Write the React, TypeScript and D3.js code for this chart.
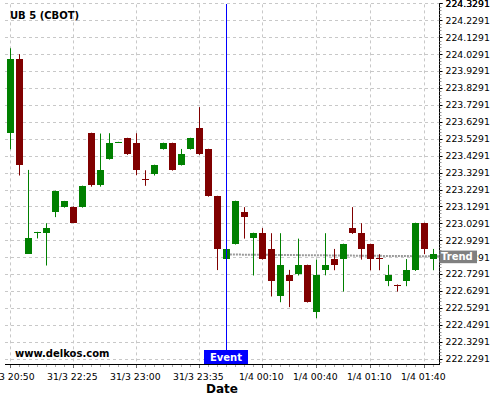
import React, { useEffect } from "react";
import * as d3 from "d3";

const title = "UB 5 (CBOT)";
const opens = [223.565, 224.001, 222.851, 222.975, 222.975, 223.099, 223.128, 223.128, 223.128, 223.564, 223.253, 223.412, 223.507, 223.534, 223.505, 223.292, 223.318, 223.471, 223.505, 223.377, 223.471, 223.594, 223.469, 223.191, 222.821, 222.910, 223.097, 222.945, 222.973, 222.878, 222.602, 222.725, 222.727, 222.784, 222.508, 222.756, 222.819, 222.821, 223.003, 222.973, 222.908, 222.826, 222.691, 222.667, 222.691, 222.754, 223.032, 222.821];
const highs = [224.064, 224.029, 223.345, 222.979, 223.030, 223.222, 223.162, 223.129, 223.252, 223.565, 223.560, 223.562, 223.511, 223.535, 223.562, 223.343, 223.376, 223.506, 223.506, 223.469, 223.535, 223.716, 223.470, 223.192, 222.881, 223.163, 223.125, 222.974, 223.001, 222.971, 222.971, 222.754, 222.939, 222.785, 222.815, 222.971, 222.878, 222.909, 223.125, 223.030, 222.909, 222.847, 222.784, 222.668, 222.818, 223.033, 223.033, 222.878];
const lows = [223.467, 223.312, 222.849, 222.940, 222.780, 223.066, 223.122, 223.031, 223.122, 223.246, 223.246, 223.406, 223.506, 223.434, 223.314, 223.251, 223.312, 223.465, 223.341, 223.371, 223.465, 223.434, 223.187, 222.753, 222.815, 222.904, 222.939, 222.721, 222.815, 222.597, 222.563, 222.534, 222.721, 222.561, 222.469, 222.722, 222.752, 222.626, 222.967, 222.815, 222.752, 222.752, 222.658, 222.626, 222.658, 222.748, 222.847, 222.752];
const closes = [224.001, 223.377, 222.943, 222.978, 223.003, 223.221, 223.162, 223.032, 223.251, 223.253, 223.345, 223.505, 223.510, 223.440, 223.347, 223.289, 223.375, 223.505, 223.347, 223.440, 223.534, 223.440, 223.193, 222.880, 222.880, 223.162, 223.069, 222.973, 222.821, 222.691, 222.784, 222.691, 222.784, 222.567, 222.725, 222.784, 222.786, 222.908, 222.973, 222.880, 222.821, 222.823, 222.725, 222.664, 222.754, 223.032, 222.880, 222.849];
const dojiUp = [3];
const xTickIndex = [0, 7, 14, 21, 28, 34, 40, 46];
const xTickLabels = ["31/3 20:50", "31/3 22:25", "31/3 23:00", "31/3 23:35", "1/4 00:10", "1/4 00:40", "1/4 01:10", "1/4 01:40"];
const yTicks = d3.range(0, 22).map((k) => 222.2291 + k * 0.1);
const yMinor = d3.range(0, 106).map((k) => 222.2091 + k * 0.02);
const eventIndex = 24;
const trendIndex = [24.4, 47.7];
const trendValues = [222.845, 222.834];

const W = 500;
const H = 400;
const plotLeft = 5;
const plotRight = 439.5;
const plotTop = 3.4;
const plotBottom = 364;

const GREEN = "#008000";
const RED = "#800000";
const FONT = "DejaVu Sans, sans-serif";

export default function App() {
  useEffect(() => {
    document.body.style.margin = "0";
  }, []);

  const x = d3.scaleLinear().domain([0, 47]).range([10.3, 433.3]);
  const y = d3.scaleLinear().domain([222.2291, 224.2291]).range([358.73, 20.33]);

  const candles = opens.map((o, i) => {
    const c = closes[i];
    const up = c > o || dojiUp.includes(i);
    const cx = x(i);
    const wx = Math.floor(cx) + 0.5;
    const top = Math.round(y(Math.max(o, c)));
    const bot = Math.round(y(Math.min(o, c)));
    return {
      i,
      color: up ? GREEN : RED,
      wx,
      bx: Math.round(cx - 3.5),
      top,
      h: Math.max(1, bot - top),
      hy: y(highs[i]),
      ly: y(lows[i]),
    };
  });

  const trendLine = d3
    .line<number>()
    .x((_, k) => x(trendIndex[k]))
    .y((v) => y(v))(trendValues) as string;

  const ex = Math.floor(x(eventIndex)) + 0.5;
  const trendEndY = y(trendValues[1]);

  return (
    <svg
      width={W}
      height={H}
      style={{ position: "absolute", left: 0, top: 0, background: "#fff" }}
      fontFamily={FONT}
    >
      <rect x={0} y={0} width={W} height={H} fill="#fff" />
      {/* grid */}
      {yTicks.map((t) => {
        const yy = Math.round(y(t)) + 0.5;
        return (
          <line key={"hg" + t} x1={plotLeft} x2={plotRight} y1={yy} y2={yy} stroke="#c8c8c8" strokeDasharray="3,3" />
        );
      })}
      {xTickIndex.map((t) => {
        const xx = Math.floor(x(t)) + 0.5;
        return (
          <line key={"vg" + t} x1={xx} x2={xx} y1={plotTop + 1} y2={plotBottom} stroke="#c8c8c8" strokeDasharray="3,3" />
        );
      })}
      {/* trend line */}
      <path d={trendLine} fill="none" stroke="#9a9a9a" strokeWidth={2} strokeDasharray="2,1" />
      {/* candles */}
      {candles.map((c) => (
        <g key={c.i}>
          <line x1={c.wx} x2={c.wx} y1={c.hy} y2={c.ly} stroke={c.color} strokeWidth={1} />
          <rect x={c.bx} y={c.top} width={7} height={c.h} fill={c.color} />
        </g>
      ))}
      {/* event */}
      <line x1={ex} x2={ex} y1={plotTop + 0.6} y2={350} stroke="#0000ff" strokeWidth={1} />
      <rect x={204} y={350} width={44} height={14} fill="#0000ff" />
      <text x={226} y={361} fill="#fff" fontSize={10} fontWeight="bold" textAnchor="middle">
        Event
      </text>
      {/* axes */}
      <line x1={plotLeft} x2={plotRight} y1={plotBottom + 0.5} y2={plotBottom + 0.5} stroke="#000" />
      <line x1={plotRight} x2={plotRight} y1={plotTop} y2={plotBottom + 1} stroke="#000" />
      {d3.range(0, 48).map((i) => {
        const xx = Math.floor(x(i)) + 0.5;
        return <line key={"xm" + i} x1={xx} x2={xx} y1={plotBottom + 1} y2={plotBottom + 3} stroke="#aaa" />;
      })}
      {xTickIndex.map((t, k) => {
        const xx = Math.floor(x(t)) + 0.5;
        return (
          <g key={"xt" + t}>
            <line x1={xx} x2={xx} y1={plotBottom + 1} y2={plotBottom + 4} stroke="#666" />
            <text x={x(t) - 1} y={380} fontSize={9.3} textAnchor="middle" fill="#000">
              {xTickLabels[k]}
            </text>
          </g>
        );
      })}
      {yMinor
        .filter((t) => y(t) >= plotTop - 0.5 && y(t) <= plotBottom)
        .map((t, k) => {
          const yy = Math.round(y(t)) + 0.5;
          return <line key={"ym" + k} x1={plotRight} x2={plotRight + 2} y1={yy} y2={yy} stroke="#999" />;
        })}
      {[...yTicks, 224.3291].map((t) => {
        const yy = Math.round(y(t)) + 0.5;
        return (
          <g key={"yt" + t}>
            <line x1={plotRight} x2={plotRight + 3} y1={yy} y2={yy} stroke="#000" />
            <text x={445.5} y={y(t)} dy="0.36em" fontSize={9.3} fill="#000">
              {t.toFixed(4)}
            </text>
          </g>
        );
      })}
      {/* trend label */}
      <rect x={plotRight} y={trendEndY - 5.8} width={37.5} height={12.6} fill="#808080" />
      <text x={441} y={trendEndY} dy="0.36em" fontSize={10} fontWeight="bold" fill="#fff">
        Trend
      </text>
      {/* texts */}
      <text x={10} y={19} fontSize={10} fontWeight="bold" fill="#000">
        {title}
      </text>
      <text x={15} y={357} fontSize={10} fontWeight="bold" fill="#000">
        www.delkos.com
      </text>
      <text x={222} y={393} fontSize={12} fontWeight="bold" textAnchor="middle" fill="#000">
        Date
      </text>
    </svg>
  );
}
